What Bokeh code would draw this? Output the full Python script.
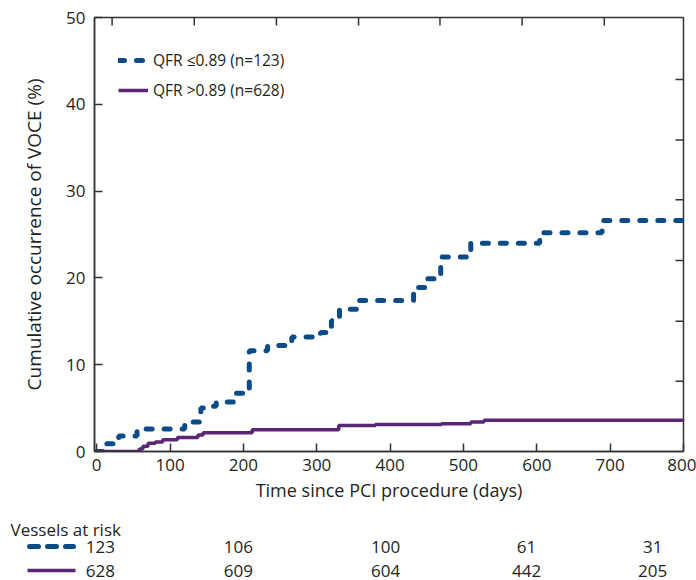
import math
from bokeh.plotting import figure
from bokeh.models import Range1d, FixedTicker, Legend, LegendItem
from bokeh.layouts import column
from bokeh.embed import file_html
from bokeh.resources import INLINE
from bokeh.core.properties import value

# ---------------- data ----------------
# QFR <=0.89 (n=123): event days and cumulative occurrence (%)
blue_t = [0, 13, 30, 55, 120, 127, 142, 150, 163, 187, 208, 233, 258, 266, 305, 313, 320, 331, 356, 432, 450, 469, 510, 604, 689, 800]
blue_y = [0, 0.9, 1.8, 2.6, 3.1, 3.4, 5.0, 5.2, 5.7, 6.7, 11.6, 12.2, 12.7, 13.2, 13.7, 14.4, 15.1, 16.4, 17.4, 18.9, 19.9, 22.4, 24.0, 25.2, 26.6, 26.6]
# QFR >0.89 (n=628)
purple_t = [0, 58, 63, 70, 80, 90, 110, 138, 145, 212, 330, 380, 470, 510, 528, 800]
purple_y = [0, 0.3, 0.6, 0.95, 1.1, 1.35, 1.6, 1.9, 2.15, 2.5, 3.0, 3.1, 3.2, 3.4, 3.6, 3.6]

x_ticks = [0, 100, 200, 300, 400, 500, 600, 700, 800]
y_ticks = [0, 10, 20, 30, 40, 50]
top_ticks = [21, 133, 245, 357, 468, 580, 692]
right_ticks = [8.1, 15.0, 22.0, 29.0, 35.9, 42.85]

series_labels = ["QFR \u22640.89 (n=123)", "QFR >0.89 (n=628)"]
risk_title = "Vessels at risk"
risk_days = [5, 193, 394, 586, 758]
risk_blue = [123, 106, 100, 61, 31]
risk_purple = [628, 609, 604, 442, 205]

# ---------------- style ----------------
FONT = "Open Sans"
BLUE = "#0a4b88"
PURPLE = "#5a2775"
INK = "#231f20"
AX = "#333333"
W = 696
H1 = 510
H2 = 70
X0, X1 = -3, 800
Y0, Y1 = 0, 50
FL, FR, FT, FB = 94, 683, 17, 451   # frame edges in canvas px

p = figure(width=W, height=H1, output_backend="svg", toolbar_location=None,
           x_range=Range1d(X0, X1), y_range=Range1d(Y0, Y1),
           min_border_left=FL, min_border_right=W - FR, min_border_top=FT,
           min_border_bottom=H1 - FB)
p.grid.visible = False
p.outline_line_color = AX
p.outline_line_width = 1.5
p.background_fill_color = "white"
p.border_fill_color = "white"
p.frame_align = False

rb = p.step(blue_t, blue_y, mode="after", line_color=BLUE, line_width=5,
            line_dash="6 12", line_cap="round")
rp = p.step(purple_t, purple_y, mode="after", line_color=PURPLE, line_width=3.5)

# unlabeled inward ticks on the top and right frame edges
p.ray(x=top_ticks, y=[Y1] * len(top_ticks), length=8, length_units="screen",
      angle=-math.pi / 2, line_color=AX, line_width=1.5)
p.ray(x=[X1] * len(right_ticks), y=right_ticks, length=8, length_units="screen",
      angle=math.pi, line_color=AX, line_width=1.5)

def style_axis(ax, ticks):
    ax.ticker = FixedTicker(ticks=ticks)
    ax.axis_line_color = AX
    ax.axis_line_width = 1.5
    ax.major_tick_line_color = AX
    ax.major_tick_line_width = 1.5
    ax.major_tick_in = 8
    ax.major_tick_out = 0
    ax.minor_tick_line_color = None
    ax.major_label_text_font = FONT
    ax.major_label_text_font_size = "17px"
    ax.major_label_text_color = INK
    ax.axis_label_text_font = FONT
    ax.axis_label_text_font_style = "normal"
    ax.axis_label_text_color = INK

xa = p.xaxis[0]
style_axis(xa, x_ticks)
xa.major_label_standoff = 7
xa.axis_label = "Time since PCI procedure (days)"
xa.axis_label_text_font_size = "18px"
xa.axis_label_standoff = 4

ya = p.yaxis[0]
style_axis(ya, y_ticks)
ya.major_label_standoff = 9
ya.axis_label = "Cumulative occurrence of VOCE (%)"
ya.axis_label_text_font_size = "19px"
ya.axis_label_standoff = 16

legend = Legend(items=[LegendItem(label=series_labels[0], renderers=[rb]),
                       LegendItem(label=series_labels[1], renderers=[rp])],
                location=(24, 350), orientation="vertical",
                label_text_font=FONT, label_text_font_size="15.5px", label_text_color=INK,
                glyph_width=30, glyph_height=20, label_height=20, label_standoff=5,
                spacing=8, padding=0, margin=0,
                border_line_color=None, background_fill_alpha=0)
p.add_layout(legend)

# ---------------- vessels at risk table ----------------
ppd = (FR - FL) / (X1 - X0)          # pixels per day
x2_start = X0 - FL / ppd
x2_end = X0 + (W - FL) / ppd
def px2day(px):
    return x2_start + px / ppd

p2 = figure(width=W, height=H2, output_backend="svg", toolbar_location=None,
            x_range=Range1d(x2_start, x2_end), y_range=Range1d(H2, 0),
            min_border=0, x_axis_type=None, y_axis_type=None)
p2.grid.visible = False
p2.outline_line_color = None
p2.frame_align = False

row1, row2 = 36, 60
txt = dict(text_font=value(FONT), text_font_size="17px", text_color=INK)
p2.text(x=[px2day(10)], y=[18.5], text=[risk_title], text_align="left",
        text_baseline="alphabetic", **txt)
p2.segment(x0=[px2day(29)], x1=[px2day(73)], y0=[row1], y1=[row1], line_color=BLUE,
           line_width=5, line_dash="9 9", line_cap="round")
p2.segment(x0=[px2day(27)], x1=[px2day(75)], y0=[row2], y1=[row2], line_color=PURPLE,
           line_width=3.5)
p2.text(x=risk_days, y=[row1] * len(risk_days), text=[str(v) for v in risk_blue],
        text_align="center", text_baseline="middle", **txt)
p2.text(x=risk_days, y=[row2] * len(risk_days), text=[str(v) for v in risk_purple],
        text_align="center", text_baseline="middle", **txt)

layout = column(p, p2, spacing=0)
open("out.html", "w").write(file_html(layout, INLINE))
